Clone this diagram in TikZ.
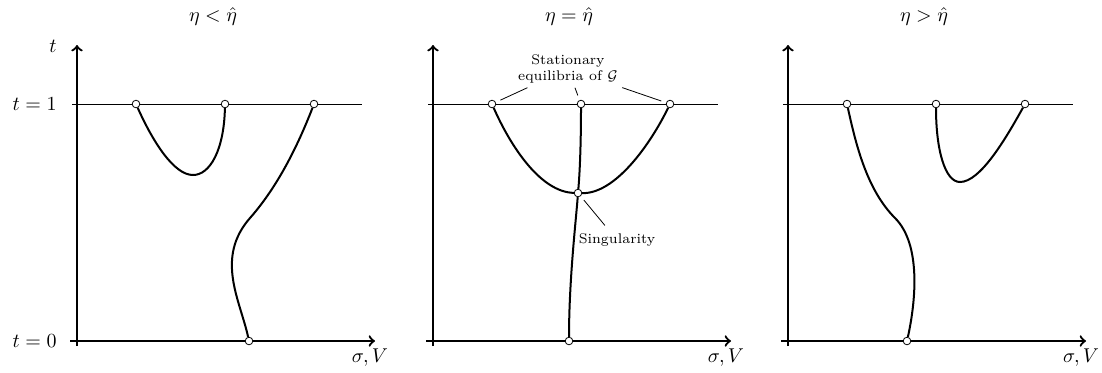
\documentclass[tikz,border=0pt]{standalone}
\usetikzlibrary{positioning}
\tikzset{
 axis/.style={->, line width=1.1pt},
 level/.style={thin},
 branch/.style={line width=1pt},
 eqpt/.style={circle, draw, thin, fill=white, inner sep=0pt, minimum size=3.8pt},
 note/.style={font=\scriptsize, align=center, inner sep=2pt},
 pointer/.style={thin, shorten >=2.5pt}
}
\begin{document}
\begin{tikzpicture}[x=0.5pt, y={(0pt,-0.5pt)}]
\useasboundingbox (0,0) rectangle (1102,372);
% axes, level t=1 and titles of the three panels
\foreach \dx/\rel/\i in {0/</1, 178/=/2, 355.5/>/3} {
 \begin{scope}[xshift=\dx pt]
 \draw[level] (72,104) -- (362,104);
 \draw[axis] (77,346) -- (77,45);
 \draw[axis] (70,341) -- (375,341);
 \node (title\i) at (213,16) {$\eta \rel \hat{\eta}$};
 \node (lab\i) at (370,358) {$\sigma, V$};
 \end{scope}
}
\node (tlab) at (53,46) {$t$};
\node[anchor=east, inner sep=0pt] (tone) at (57,104) {$t=1$};
\node[anchor=east, inner sep=0pt] (tzero) at (57,341) {$t=0$};

% eta < hat eta
\node[eqpt] (A1) at (136,104) {};
\node[eqpt] (B1) at (225,104) {};
\node[eqpt] (C1) at (314,104) {};
\node[eqpt] (D1) at (249,341) {};
\coordinate (m1) at (193,175);
\coordinate (k1) at (250,218);
\draw[branch] (A1) .. controls (153,142) and (174,175) .. (m1) .. controls (210,175) and (224,150) .. (B1);
\draw[branch] (C1) .. controls (300,140) and (280,184) .. (k1) .. controls (215,258) and (240,300) .. (D1);

% eta = hat eta
\begin{scope}[xshift=178pt]
\node[eqpt] (A2) at (136,104) {};
\node[eqpt] (B2) at (225,104) {};
\node[eqpt] (C2) at (314,104) {};
\node[eqpt] (S) at (222,193) {};
\node[eqpt] (D2) at (213,341) {};
\draw[branch] (A2) .. controls (154,145) and (184,192) .. (S) .. controls (259,194) and (294,145) .. (C2);
\draw[branch] (B2) .. controls (225,140) and (224,170) .. (S) .. controls (220,220) and (213,280) .. (D2);
\node[note] (equil) at (212,69) {Stationary\\equilibria of $\mathcal{G}$};
\node[note] (sing) at (261,240) {Singularity};
\draw[pointer] (equil) -- (A2);
\draw[pointer] (equil) -- (B2);
\draw[pointer] (equil) -- (C2);
\draw[pointer, shorten <=2.5pt] (S) -- (sing);
\end{scope}

% eta > hat eta
\begin{scope}[xshift=355.5pt]
\node[eqpt] (A3) at (136,104) {};
\node[eqpt] (B3) at (225,104) {};
\node[eqpt] (C3) at (314,104) {};
\node[eqpt] (D3) at (196,341) {};
\coordinate (m3) at (249,182);
\coordinate (k3) at (184,218);
\draw[branch] (B3) .. controls (225,150) and (234,182) .. (m3) .. controls (269,182) and (294,140) .. (C3);
\draw[branch] (A3) .. controls (145,145) and (156,190) .. (k3) .. controls (210,244) and (205,300) .. (D3);
\end{scope}
\end{tikzpicture}
\end{document}
